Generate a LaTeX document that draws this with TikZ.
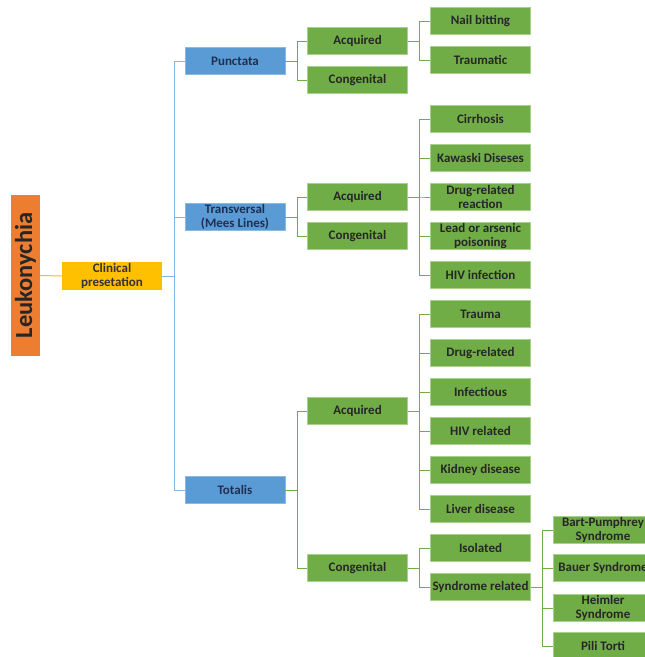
\documentclass[tikz,border=0pt]{standalone}
\usepackage{fontspec}
\setmainfont{Carlito}
\definecolor{leafgreen}{HTML}{70AD47}
\definecolor{leafedge}{HTML}{A9D18E}
\definecolor{stemblue}{HTML}{5B9BD5}
\definecolor{rootorange}{HTML}{ED7D31}
\definecolor{clinyellow}{HTML}{FFC000}
\definecolor{inkblue}{HTML}{1F2F4F}
\tikzset{
  box/.style={minimum width=100pt, minimum height=27pt, inner sep=0.5pt, align=center,
    font=\fontsize{13}{14}\selectfont\bfseries, text=black!85},
  gbox/.style={box, fill=leafgreen, draw=leafedge, line width=0.5pt},
  bbox/.style={box, fill=stemblue, draw=stemblue!70!white, line width=0.5pt, text=inkblue},
  gline/.style={draw=leafgreen, line width=1pt},
  bline/.style={draw=stemblue!75!white, line width=1pt},
}
\begin{document}
\begin{tikzpicture}[x=1pt,y=-1pt]
  \clip (0,0) rectangle (645,657);

  % root and first level
  \node[rotate=90, fill=rootorange, minimum width=161pt, minimum height=29pt, inner sep=0pt,
        font=\fontsize{24.5}{24.5}\selectfont\bfseries, text=black!85] (leuk) at (25.5,275.5) {Leukonychia};
  \node[box, fill=clinyellow, minimum height=28pt, text=black!80] (clin) at (112,276) {Clinical\\presetation};
  \draw[draw=clinyellow, line width=1pt] (leuk.south) -- (clin.west);

  \node[bbox] (punc) at (235,61) {Punctata};
  \node[bbox] (trans) at (235,217) {Transversal\\(Mees Lines)};
  \node[bbox] (tot) at (235,490) {Totalis};
  \foreach \c in {punc,trans,tot}
    \draw[bline] (clin.east) -- ++(12,0) |- (\c.west);

  % punctata
  \node[gbox] (pacq) at (357.5,41) {Acquired};
  \node[gbox] (pcon) at (357.5,80) {Congenital};
  \node[gbox] (pnail) at (480.5,21) {Nail bitting};
  \node[gbox] (ptrau) at (480.5,60) {Traumatic};
  \foreach \c in {pacq,pcon}
    \draw[gline] (punc.east) -- ++(12,0) |- (\c.west);
  \foreach \c in {pnail,ptrau}
    \draw[gline] (pacq.east) -- ++(12,0) |- (\c.west);

  % transversal
  \node[gbox] (tacq) at (357.5,197) {Acquired};
  \node[gbox] (tcon) at (357.5,236) {Congenital};
  \node[gbox] (tcirr) at (480.5,119) {Cirrhosis};
  \node[gbox] (tkawa) at (480.5,158) {Kawaski Diseses};
  \node[gbox] (tdrug) at (480.5,197) {Drug-related\\reaction};
  \node[gbox] (tlead) at (480.5,236) {Lead or arsenic\\poisoning};
  \node[gbox] (thiv) at (480.5,275) {HIV infection};
  \foreach \c in {tacq,tcon}
    \draw[gline] (trans.east) -- ++(12,0) |- (\c.west);
  \foreach \c in {tcirr,tkawa,tdrug,tlead,thiv}
    \draw[gline] (tacq.east) -- ++(12,0) |- (\c.west);

  % totalis
  \node[gbox] (oacq) at (357.5,411) {Acquired};
  \node[gbox] (ocon) at (357.5,568) {Congenital};
  \node[gbox] (otrau) at (480.5,314) {Trauma};
  \node[gbox] (odrug) at (480.5,353) {Drug-related};
  \node[gbox] (oinf) at (480.5,392) {Infectious};
  \node[gbox] (ohiv) at (480.5,431) {HIV related};
  \node[gbox] (okid) at (480.5,470) {Kidney disease};
  \node[gbox] (oliv) at (480.5,509) {Liver disease};
  \node[gbox] (oiso) at (480.5,548) {Isolated};
  \node[gbox] (osyn) at (480.5,587) {Syndrome related};
  \node[gbox] (obart) at (603,530) {Bart-Pumphrey\\Syndrome};
  \node[gbox] (obau) at (603,568) {Bauer Syndrome};
  \node[gbox] (ohei) at (603,608) {Heimler\\Syndrome};
  \node[gbox] (opili) at (603,646) {Pili Torti};
  \foreach \c in {oacq,ocon}
    \draw[gline] (tot.east) -- ++(12,0) |- (\c.west);
  \foreach \c in {otrau,odrug,oinf,ohiv,okid,oliv}
    \draw[gline] (oacq.east) -- ++(12,0) |- (\c.west);
  \foreach \c in {oiso,osyn}
    \draw[gline] (ocon.east) -- ++(12,0) |- (\c.west);
  \foreach \c in {obart,obau,ohei,opili}
    \draw[gline] (osyn.east) -- ++(12,0) |- (\c.west);
\end{tikzpicture}
\end{document}
